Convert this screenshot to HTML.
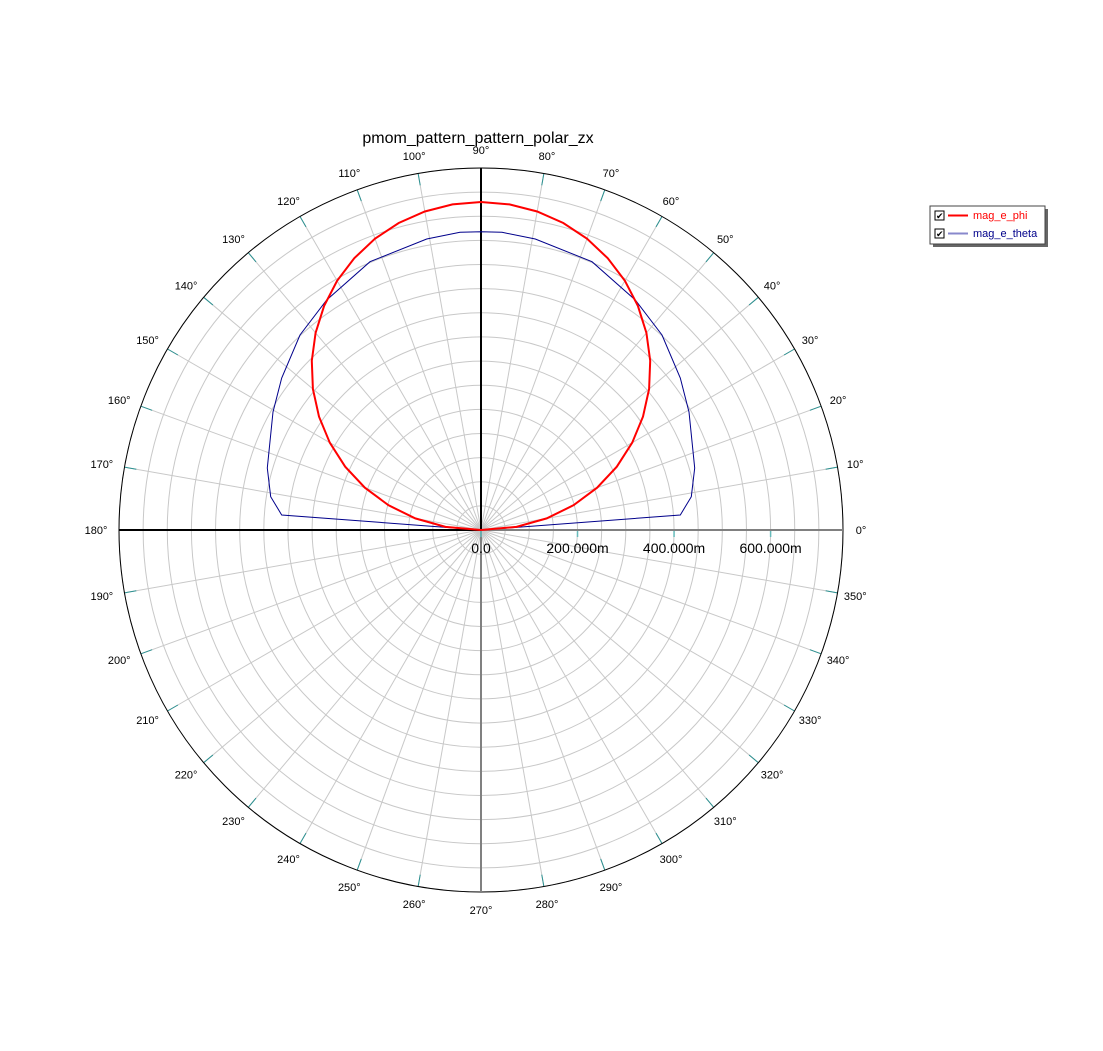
<!DOCTYPE html>
<html><head><meta charset="utf-8"><style>
body{margin:0;background:#fff;}
svg{display:block;font-family:"Liberation Sans",sans-serif;}
</style></head><body>
<svg id="s" width="1103" height="1051" viewBox="0 0 1103 1051" xmlns="http://www.w3.org/2000/svg">
<text x="478" y="143" font-size="16" text-anchor="middle" fill="#000">pmom_pattern_pattern_polar_zx</text>
<g id="g"></g>
<rect x="933" y="209" width="115" height="38" fill="#666"/>
<rect x="930" y="206" width="115" height="38" fill="#fff" stroke="#444" stroke-width="1"/>
<rect x="935" y="211" width="9" height="9" fill="#fff" stroke="#000"/>
<text x="936" y="219" font-size="9">✔</text>
<line x1="948" y1="215.5" x2="968" y2="215.5" stroke="red" stroke-width="2"/>
<text x="973" y="219" font-size="11" fill="red">mag_e_phi</text>
<rect x="935" y="229" width="9" height="9" fill="#fff" stroke="#000"/>
<text x="936" y="237" font-size="9">✔</text>
<line x1="948" y1="233.5" x2="968" y2="233.5" stroke="#8888cc" stroke-width="2"/>
<text x="973" y="237" font-size="11" fill="#00008b">mag_e_theta</text>
</svg>
<script>
var cx=481,cy=530,R=362,NS="http://www.w3.org/2000/svg",g=document.getElementById('g');
function el(t,a,txt){var e=document.createElementNS(NS,t);for(var k in a)e.setAttribute(k,a[k]);if(txt)e.textContent=txt;g.appendChild(e);return e;}
var ppm=R/750;
for(var i=1;i<=15;i++)el('circle',{cx:cx,cy:cy,r:i*50*ppm,fill:'none',stroke:'#c8c8c8','stroke-width':1});
for(var a=0;a<360;a+=10){var t=a*Math.PI/180,c=Math.cos(t);
 if(a%90)el('line',{x1:cx,y1:cy,x2:cx+R*Math.cos(t),y2:cy-R*Math.sin(t),stroke:'#c8c8c8','stroke-width':1});
 el('line',{x1:cx+(R-12)*Math.cos(t),y1:cy-(R-12)*Math.sin(t),x2:cx+R*Math.cos(t),y2:cy-R*Math.sin(t),stroke:'#2a9090','stroke-width':1});
 var lx=cx+380*c+(c<0?5*c:0);
 el('text',{x:lx,y:cy-380*Math.sin(t)+4,'font-size':11,'text-anchor':'middle'},a+'°');
}
el('circle',{cx:cx,cy:cy,r:R,fill:'none',stroke:'#000','stroke-width':1});
el('line',{x1:cx,y1:cy,x2:cx+R,y2:cy,stroke:'#808080','stroke-width':2});
el('line',{x1:cx,y1:cy,x2:cx,y2:cy+R,stroke:'#808080','stroke-width':2});
el('line',{x1:cx-R,y1:cy,x2:cx,y2:cy,stroke:'#000','stroke-width':2});
el('line',{x1:cx,y1:cy-R,x2:cx,y2:cy,stroke:'#000','stroke-width':2});
[[0,'0.0'],[200,'200.000m'],[400,'400.000m'],[600,'600.000m']].forEach(function(v){var x=cx+v[0]*ppm;
 el('line',{x1:x,y1:cy+1,x2:x,y2:cy+7,stroke:'#6bb','stroke-width':1.5});
 el('text',{x:x,y:cy+23,'font-size':14,'text-anchor':'middle'},v[1]);});
var L=[[281.7,515],[270.7,496.7],[267.3,468],[273,412],[281.7,378],[300,335],[326.7,300],[370,261.7],[426.7,239],[460,232.3],[481,231.7]];
var pts=[[cx,cy]];L.forEach(function(p){pts.push(p)});
for(var i=L.length-2;i>=0;i--)pts.push([2*cx-L[i][0],L[i][1]]);pts.push([cx,cy]);
el('polyline',{points:pts.map(function(p){return p.join(',')}).join(' '),fill:'none',stroke:'#00008b','stroke-width':1});
var rp=[];for(var a=0;a<=180;a+=5){var t=a*Math.PI/180,r=328*Math.pow(Math.max(Math.sin(t),0),0.91);rp.push((cx+r*Math.cos(t)).toFixed(1)+','+(cy-r*Math.sin(t)).toFixed(1));}
el('polyline',{points:rp.join(' '),fill:'none',stroke:'red','stroke-width':2});
</script>
</body></html>
